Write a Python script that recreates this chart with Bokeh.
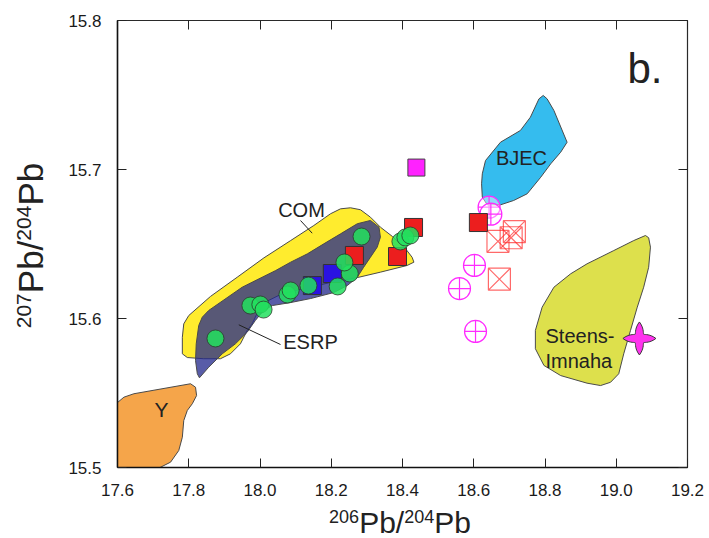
import numpy as np
from bokeh.plotting import figure
from bokeh.models import FixedTicker, PrintfTickFormatter, LinearAxis, Label, Range1d, Div
from bokeh.layouts import row, column
from bokeh.embed import file_html
from bokeh.resources import INLINE

FONT = "Liberation Sans"

# ---- axes -------------------------------------------------------------
X_RANGE = (17.6, 19.2)
Y_RANGE = (15.5, 15.8)
x_ticks = [17.6, 17.8, 18.0, 18.2, 18.4, 18.6, 18.8, 19.0, 19.2]
y_ticks = [15.5, 15.6, 15.7, 15.8]

# ---- field outlines (206Pb/204Pb, 207Pb/204Pb) ------------------------
com_x = [17.782, 17.782, 17.786, 17.800, 17.861, 17.936, 18.011, 18.086, 18.151, 18.198,
         18.226, 18.254, 18.282, 18.310, 18.338, 18.372, 18.408, 18.427, 18.432, 18.413,
         18.338, 18.274, 18.198, 18.114, 18.058, 18.018, 17.993, 17.978, 17.964, 17.945,
         17.917, 17.889, 17.842, 17.796]
com_y = [15.5763, 15.5874, 15.5964, 15.6020, 15.6148, 15.6277, 15.6407, 15.6523, 15.6624, 15.6703,
         15.6736, 15.6743, 15.6730, 15.6680, 15.6613, 15.6550, 15.6470, 15.6411, 15.6378, 15.6356,
         15.6311, 15.6275, 15.6242, 15.6195, 15.6161, 15.6114, 15.6040, 15.5964, 15.5919, 15.5830,
         15.5763, 15.5730, 15.5730, 15.5738]

esrp_x = [17.830, 17.824, 17.819, 17.821, 17.828, 17.838, 17.856, 17.950, 18.044, 18.086,
          18.133, 18.179, 18.226, 18.273, 18.310, 18.334, 18.338, 18.329, 18.310, 18.291,
          18.273, 18.245, 18.207, 18.142, 18.086, 18.035, 18.010, 17.987, 17.964, 17.931,
          17.894, 17.856]
esrp_y = [15.5602, 15.5629, 15.5718, 15.5830, 15.5953, 15.6009, 15.6054, 15.6210, 15.6322, 15.6378,
          15.6434, 15.6501, 15.6568, 15.6636, 15.6658, 15.6613, 15.6546, 15.6479, 15.6411, 15.6344,
          15.6277, 15.6221, 15.6174, 15.6134, 15.6107, 15.6087, 15.6054, 15.5987, 15.5908, 15.5830,
          15.5763, 15.5673]

yfield_x = [17.580, 17.618, 17.646, 17.805, 17.819, 17.822, 17.810, 17.796, 17.786, 17.782,
            17.772, 17.749, 17.721, 17.693, 17.566]
yfield_y = [15.5396, 15.5472, 15.5495, 15.5562, 15.5539, 15.5483, 15.5428, 15.5383, 15.5315, 15.5203,
            15.5114, 15.5036, 15.5002, 15.4946, 15.4946]

bjec_x = [18.624, 18.633, 18.675, 18.731, 18.759, 18.783, 18.795, 18.806, 18.825, 18.862,
          18.844, 18.816, 18.788, 18.750, 18.712, 18.675, 18.638, 18.624, 18.622]
bjec_y = [15.6971, 15.7060, 15.7183, 15.7262, 15.7351, 15.7474, 15.7497, 15.7474, 15.7396, 15.7183,
          15.7116, 15.7038, 15.6948, 15.6837, 15.6792, 15.6763, 15.6763, 15.6814, 15.6904]

steens_x = [19.082, 19.091, 19.096, 19.091, 19.077, 19.059, 19.040, 19.021, 19.007, 18.984,
            18.956, 18.918, 18.844, 18.797, 18.773, 18.773, 18.792, 18.825, 18.872, 18.918,
            18.993, 19.049]
steens_y = [15.6557, 15.6542, 15.6479, 15.6344, 15.6210, 15.6076, 15.5920, 15.5763, 15.5629, 15.5572,
            15.5550, 15.5566, 15.5617, 15.5685, 15.5797, 15.5920, 15.6076, 15.6210, 15.6300, 15.6367,
            15.6456, 15.6523]

# ---- samples -----------------------------------------------------------
green_x = [17.875, 17.973, 18.001, 18.010, 18.077, 18.086, 18.136, 18.218, 18.252, 18.237,
           18.285, 18.394, 18.408, 18.422]
green_y = [15.5866, 15.6087, 15.6094, 15.6060, 15.6161, 15.6188, 15.6221, 15.6215, 15.6302, 15.6376,
           15.6550, 15.6517, 15.6544, 15.6557]

blue_x = [18.147, 18.203]
blue_y = [15.6221, 15.6302]

red_x = [18.265, 18.386, 18.431, 18.613]
red_y = [15.6423, 15.6416, 15.6611, 15.6644]

magenta_x = [18.439]
magenta_y = [15.7013]

ccircle_x = [18.643, 18.648, 18.602, 18.560, 18.605]
ccircle_y = [15.6747, 15.6700, 15.6356, 15.6201, 15.5913]

xsquare_x = [18.668, 18.705, 18.714, 18.672]
xsquare_y = [15.6518, 15.6542, 15.6583, 15.6264]

star_x = 19.065
star_y = 15.5866

# ---- page geometry (pixels) --------------------------------------------
W, H = 709, 538
YTITLE_W = 56          # strip left of the plot holding the rotated y title
XTITLE_H = 33          # strip under the plot holding the x title
FRAME_L, FRAME_T, FRAME_W, FRAME_H = 117, 20, 570, 447
PX_X = FRAME_W / (X_RANGE[1] - X_RANGE[0])
PX_Y = FRAME_H / (Y_RANGE[1] - Y_RANGE[0])


def sx(px):
    return X_RANGE[0] + (px - FRAME_L) / PX_X


def sy(py):
    return Y_RANGE[1] - (py - FRAME_T) / PX_Y


p = figure(width=W - YTITLE_W, height=H - XTITLE_H,
           x_range=Range1d(*X_RANGE), y_range=Range1d(*Y_RANGE),
           frame_width=FRAME_W, frame_height=FRAME_H,
           min_border_left=FRAME_L - YTITLE_W, min_border_right=W - FRAME_L - FRAME_W,
           min_border_top=FRAME_T, min_border_bottom=H - XTITLE_H - FRAME_T - FRAME_H,
           output_backend="svg", toolbar_location=None)
p.xgrid.visible = False
p.ygrid.visible = False
p.outline_line_color = "#2a2a2a"
p.outline_line_width = 1.2
p.background_fill_color = "white"
p.border_fill_color = "white"


def style_axis(ax, ticks, show_labels, line=True):
    ax.ticker = FixedTicker(ticks=ticks)
    ax.formatter = PrintfTickFormatter(format="%.1f")
    ax.major_tick_in = 9
    ax.major_tick_out = 0
    ax.minor_tick_line_color = None
    ax.major_tick_line_color = "#222222"
    ax.major_tick_line_width = 1
    ax.axis_line_color = "#111111" if line else None
    ax.axis_line_width = 1.5
    ax.major_label_text_font = FONT
    ax.major_label_text_font_size = "17px"
    if show_labels:
        ax.major_label_text_color = "#1a1a1a"
        ax.major_label_standoff = 16
    else:
        ax.major_label_text_color = None
        ax.major_label_standoff = 0


style_axis(p.xaxis[0], x_ticks, True)
style_axis(p.yaxis[0], y_ticks, True)
top_ax = LinearAxis()
right_ax = LinearAxis()
style_axis(top_ax, x_ticks, False, line=False)
style_axis(right_ax, y_ticks, False, line=False)
p.add_layout(top_ax, "above")
p.add_layout(right_ax, "right")

# ---- fields ---------------------------------------------------------------
edge = dict(line_color="#4a4a4a", line_width=1)
p.patch(com_x, com_y, fill_color="#FFEC2E", **edge)
p.patch(esrp_x, esrp_y, fill_color="#23298D", fill_alpha=0.76, **edge)
p.patch(yfield_x, yfield_y, fill_color="#F5A54A", **edge)
p.patch(bjec_x, bjec_y, fill_color="#35BCEE", **edge)
p.patch(steens_x, steens_y, fill_color="#DDE04C", **edge)

# ---- samples ---------------------------------------------------------------
p.scatter(xsquare_x, xsquare_y, marker="square_x", size=22, fill_alpha=0,
          line_color="#FF2A2A", line_alpha=0.7, line_width=1.2)
p.scatter(ccircle_x, ccircle_y, marker="circle_cross", size=22, fill_color="white",
          fill_alpha=0.45, line_color="#FF2BFF", line_width=1.2)
p.scatter(blue_x, blue_y, marker="square", size=18, fill_color="#2A12E2",
          line_color="#333333", line_width=1)
p.scatter(red_x, red_y, marker="square", size=18, fill_color="#EC1E1E",
          line_color="#333333", line_width=1)
p.scatter(magenta_x, magenta_y, marker="square", size=17, fill_color="#FF22FF",
          line_color="#444444", line_width=1)
p.scatter(green_x, green_y, marker="circle", size=17, fill_color="#22E05E",
          fill_alpha=0.85, line_color="#2a3a2a", line_alpha=0.8, line_width=1)

# four-pointed star (points up/down/left/right), built around its sample point
ang = np.linspace(0, 2 * np.pi, 65)[:-1]
diag = np.abs(((ang + np.pi / 4) % (np.pi / 2)) - np.pi / 4) / (np.pi / 4)
rad = 6.0 + 10.5 * (1 - diag) ** 1.6
p.patch(star_x + rad * np.cos(ang) / PX_X, star_y + rad * np.sin(ang) / PX_Y,
        fill_color="#FF33EE", line_color="#3a3a3a", line_width=1)

# ---- field names and leaders ------------------------------------------------
txt = dict(text_font=FONT, text_color="#222222")
p.segment(x0=[sx(300), sx(238.3)], y0=[sy(220), sy(324.3)],
          x1=[sx(311.7), sx(280)], y1=[sy(232.7), sy(344)],
          line_color="#222222", line_width=1)
for t, px, py in [("COM", 301, 209), ("ESRP", 310, 341), ("BJEC", 521, 157.5), ("Y", 161, 409)]:
    p.add_layout(Label(x=sx(px), y=sy(py), text=t, text_font_size="21px" if t == "Y" else "20px",
                       text_align="center", text_baseline="middle", **txt))
for t, py in [("Steens-", 335), ("Imnaha", 360)]:
    p.add_layout(Label(x=sx(545), y=sy(py), text=t, text_font_size="20px",
                       text_align="left", text_baseline="alphabetic", **txt))
p.add_layout(Label(x=sx(627), y=sy(68), text="b.", text_font_size="42px",
                   text_align="left", text_baseline="alphabetic", **txt))

# ---- axis titles with superscript mass numbers ------------------------------
def title_html(m1, m2, big, sup, rise):
    s = f'<span style="font-size:{sup}px;position:relative;top:-{rise}px;">{{}}</span>'
    return s.format(m1) + "Pb/" + s.format(m2) + "Pb"


def title_style(big):
    return ("position:absolute;white-space:nowrap;text-align:center;"
            f"font-family:'{FONT}';font-size:{big}px;line-height:{big}px;color:#222222;")


YBIG, YSUP = 35, 21
span = 2 * FRAME_T + FRAME_H + 4
ytitle = Div(width=YTITLE_W, height=H, margin=0, text=(
    f'<div style="position:relative;width:{YTITLE_W}px;height:{H}px;">'
    f'<div style="{title_style(YBIG)}left:13.4px;top:{span}px;width:{span}px;height:{YBIG}px;'
    'transform:rotate(-90deg);transform-origin:0 0;">'
    + title_html("207", "204", YBIG, YSUP, 12) + "</div></div>"))

xcenter = FRAME_L + FRAME_W / 2 - 2 - YTITLE_W
xtitle = Div(width=W - YTITLE_W, height=XTITLE_H, margin=0, text=(
    f'<div style="position:relative;width:{W - YTITLE_W}px;height:{XTITLE_H}px;">'
    f'<div style="{title_style(30)}left:{xcenter - 200}px;top:2.6px;width:400px;height:30px;">'
    + title_html("206", "204", 30, 18, 10) + "</div></div>"))

page = row(ytitle, column(p, xtitle, spacing=0), spacing=0)

open("out.html", "w").write(file_html(page, INLINE))
